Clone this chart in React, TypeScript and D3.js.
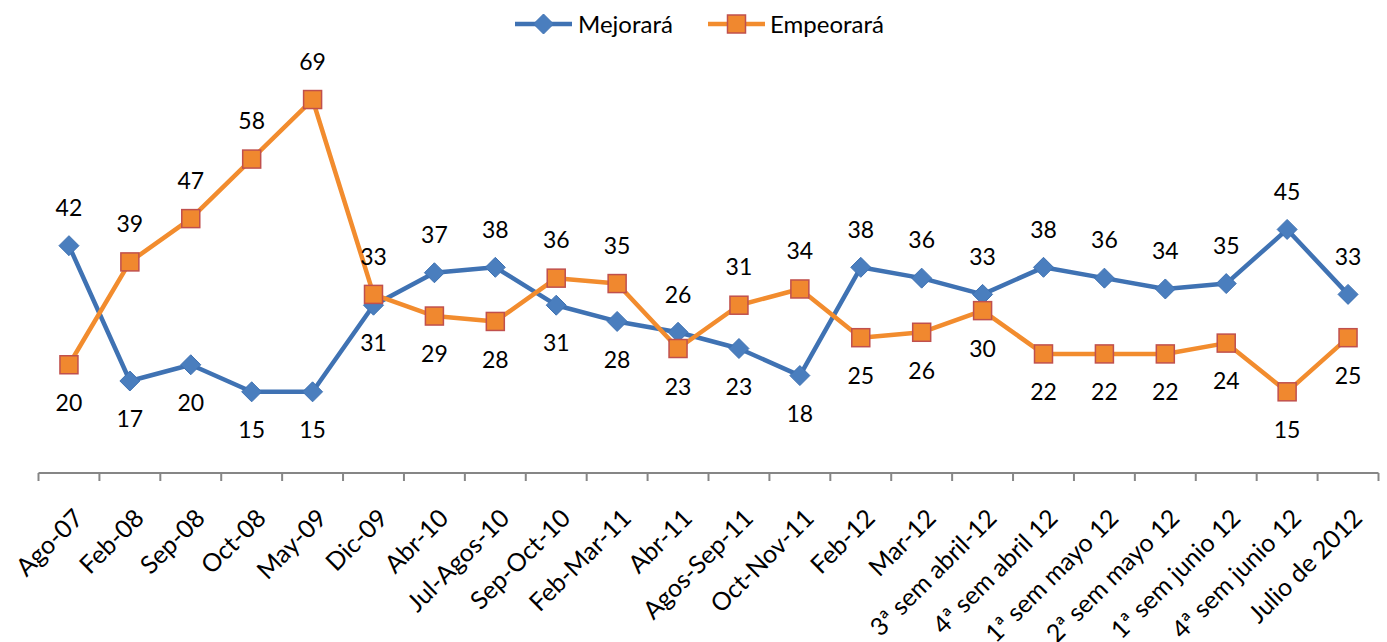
import React, { useEffect, useRef } from "react";
import * as d3 from "d3";

const categories = [
  "Ago-07", "Feb-08", "Sep-08", "Oct-08", "May-09", "Dic-09", "Abr-10",
  "Jul-Agos-10", "Sep-Oct-10", "Feb-Mar-11", "Abr-11", "Agos-Sep-11",
  "Oct-Nov-11", "Feb-12", "Mar-12", "3ª sem abril-12", "4ª sem abril 12",
  "1ª sem mayo 12", "2ª sem mayo 12", "1ª sem junio 12", "4ª sem junio 12",
  "Julio de 2012",
];

const mejorara = [42, 17, 20, 15, 15, 31, 37, 38, 31, 28, 26, 23, 18, 38, 36, 33, 38, 36, 34, 35, 45, 33];
const empeorara = [20, 39, 47, 58, 69, 33, 29, 28, 36, 35, 23, 31, 34, 25, 26, 30, 22, 22, 22, 24, 15, 25];

const WIDTH = 1387;
const HEIGHT = 642;
const FONT = "Lato, 'Open Sans', sans-serif";

const BLUE = "#3F72B3";
const BLUE_MARK = "#4A7EBE";
const ORANGE = "#F28C2E";
const ORANGE_MARK = "#F0882F";
const ORANGE_EDGE = "#C0504D";

export default function App() {
  const ref = useRef<SVGSVGElement>(null);

  useEffect(() => {
    const svg = d3.select(ref.current);
    svg.selectAll("*").remove();

    const x = d3.scaleBand().domain(categories).range([38.5, 1378.5]);
    const cx = (c: string) => (x(c) as number) + x.bandwidth() / 2;
    const y = d3.scaleLinear().domain([0, 80]).range([473, 40]);

    // axis
    const axis = svg.append("g").attr("transform", "translate(0,473)");
    axis
      .append("line")
      .attr("x1", 38.5)
      .attr("x2", 1378.5)
      .attr("stroke", "#868686")
      .attr("stroke-width", 2);
    const bounds = categories.map((c) => x(c) as number).concat([1378.5]);
    axis
      .selectAll("line.tick")
      .data(bounds)
      .enter()
      .append("line")
      .attr("class", "tick")
      .attr("x1", (d) => d)
      .attr("x2", (d) => d)
      .attr("y1", 0)
      .attr("y2", 8)
      .attr("stroke", "#868686")
      .attr("stroke-width", 2);

    svg
      .append("g")
      .selectAll("text")
      .data(categories)
      .enter()
      .append("text")
      .attr("transform", (d) => `translate(${cx(d) + 3},507) rotate(-45)`)
      .attr("text-anchor", "end")
      .attr("dy", "0.72em")
      .attr("font-family", FONT)
      .attr("font-size", 25)
      .attr("fill", "#000")
      .text((d) => d);

    const series = [
      { name: "Mejorará", values: mejorara, color: BLUE, mark: "diamond" },
      { name: "Empeorará", values: empeorara, color: ORANGE, mark: "square" },
    ];

    const line = d3
      .line<number>()
      .x((d, i) => cx(categories[i]))
      .y((d) => y(d));

    const drawMarker = (g: any, kind: string, px: number, py: number) => {
      if (kind === "diamond") {
        g.append("path")
          .attr("d", `M${px},${py - 10}L${px + 10},${py}L${px},${py + 10}L${px - 10},${py}Z`)
          .attr("fill", BLUE_MARK)
          .attr("stroke", BLUE)
          .attr("stroke-width", 1);
      } else {
        g.append("rect")
          .attr("x", px - 9)
          .attr("y", py - 9)
          .attr("width", 18)
          .attr("height", 18)
          .attr("fill", ORANGE_MARK)
          .attr("stroke", ORANGE_EDGE)
          .attr("stroke-width", 1.5);
      }
    };

    series.forEach((s) => {
      svg
        .append("path")
        .datum(s.values)
        .attr("d", line)
        .attr("fill", "none")
        .attr("stroke", s.color)
        .attr("stroke-width", 4.5)
        .attr("stroke-linejoin", "round");
      const g = svg.append("g");
      s.values.forEach((v, i) => drawMarker(g, s.mark, cx(categories[i]), y(v)));
    });

    // data labels: the higher value goes above, the lower below
    const labels = svg.append("g");
    categories.forEach((c, i) => {
      const a = mejorara[i];
      const b = empeorara[i];
      const hi = Math.max(a, b);
      const lo = Math.min(a, b);
      [
        { v: hi, off: -38 },
        { v: lo, off: 38 },
      ].forEach((l) => {
        labels
          .append("text")
          .attr("x", cx(c))
          .attr("y", y(l.v) + l.off)
          .attr("dy", "0.36em")
          .attr("text-anchor", "middle")
          .attr("font-family", FONT)
          .attr("font-size", 23)
          .attr("fill", "#000")
          .text(l.v);
      });
    });

    // legend
    const legend = svg.append("g");
    const items = [
      { s: series[0], x0: 515, tx: 578 },
      { s: series[1], x0: 708, tx: 770 },
    ];
    items.forEach((it) => {
      legend
        .append("line")
        .attr("x1", it.x0)
        .attr("x2", it.x0 + 57)
        .attr("y1", 24)
        .attr("y2", 24)
        .attr("stroke", it.s.color)
        .attr("stroke-width", 4.5);
      drawMarker(legend, it.s.mark, it.x0 + 28.5, 24);
      legend
        .append("text")
        .attr("x", it.tx)
        .attr("y", 24)
        .attr("dy", "0.36em")
        .attr("font-family", FONT)
        .attr("font-size", 24)
        .attr("fill", "#000")
        .text(it.s.name);
    });
  }, []);

  return (
    <svg
      ref={ref}
      width={WIDTH}
      height={HEIGHT}
      style={{ position: "absolute", left: 0, top: 0, background: "#fff" }}
    />
  );
}
